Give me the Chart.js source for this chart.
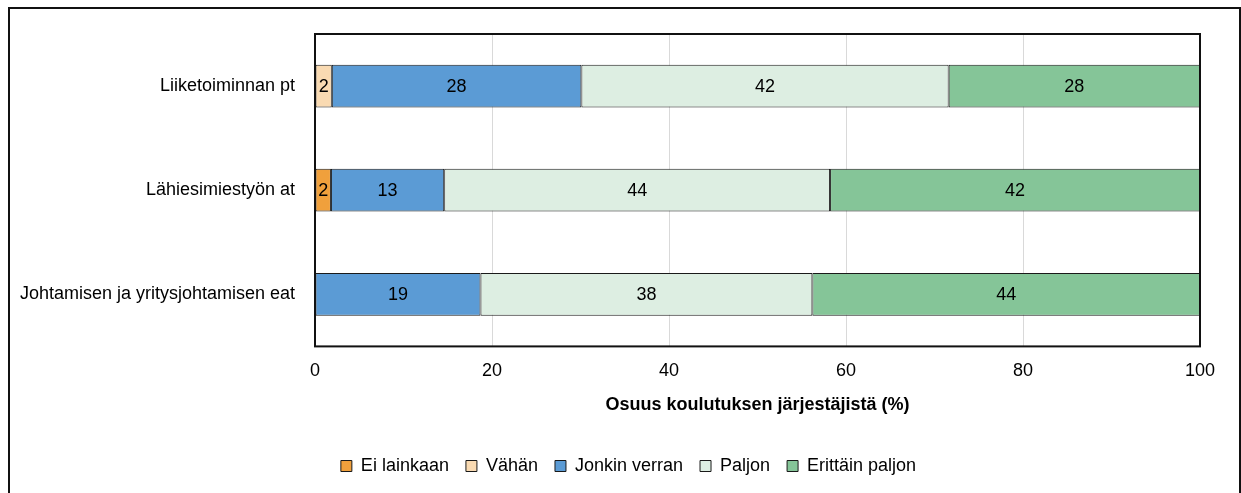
<!DOCTYPE html>
<html lang="fi">
<head>
<meta charset="utf-8">
<title>Osuus koulutuksen järjestäjistä</title>
<script src="https://cdn.jsdelivr.net/npm/chart.js@4/dist/chart.umd.min.js"></script>
<style>
    html, body {
        margin: 0;
        padding: 0;
        background: #ffffff;
    }

    .chart-wrap {
        position: relative;
        width: 1241px;
        height: 493px;
        overflow: hidden;
    }

    .frame {
        position: absolute;
        left: 8px;
        top: 7px;
        width: 1233px;
        height: 540px;
        box-sizing: border-box;
        border: 2px solid #111111;
        pointer-events: none;
    }
</style>
</head>
<body>
<div class="chart-wrap">
    <canvas id="chart"></canvas>
    <div class="frame"></div>
</div>
<script>
const categories = ['Liiketoiminnan pt', 'Lähiesimiestyön at', 'Johtamisen ja yritysjohtamisen eat'];
const seriesNames = ['Ei lainkaan', 'Vähän', 'Jonkin verran', 'Paljon', 'Erittäin paljon'];
const eiLainkaan = [null, 1.8, null];
const vahan = [1.9, null, null];
const jonkinVerran = [28.2, 12.8, 18.7];
const paljon = [41.5, 43.6, 37.5];
const erittainPaljon = [28.4, 41.8, 43.8];
const xTicks = [0, 20, 40, 60, 80, 100];
const axisTitle = 'Osuus koulutuksen järjestäjistä (%)';

const seriesColors = ['#f0a03c', '#f9dab2', '#5b9bd5', '#ddeee2', '#85c598'];
const fontFamily = '"Liberation Sans", Arial, sans-serif';

// numbers inside the segments
const segmentLabels = {
    id: 'segmentLabels',
    afterDatasetsDraw(chart) {
        const ctx = chart.ctx;
        ctx.save();
        ctx.font = `18px ${fontFamily}`;
        ctx.fillStyle = '#000000';
        ctx.textAlign = 'center';
        ctx.textBaseline = 'middle';
        chart.data.datasets.forEach((dataset, i) => {
            const meta = chart.getDatasetMeta(i);
            meta.data.forEach((bar, j) => {
                const value = dataset.data[j];
                if (value === null || value === undefined) {
                    return;
                }
                const x = (bar.x + bar.base) / 2;
                ctx.fillText(`${Math.round(value)}`, x, bar.y + 1);
            });
        });
        ctx.restore();
    },
};

// black frame round the plot area
const plotFrame = {
    id: 'plotFrame',
    afterDraw(chart) {
        const {ctx, chartArea} = chart;
        ctx.save();
        ctx.strokeStyle = '#111111';
        ctx.lineWidth = 2;
        ctx.strokeRect(chartArea.left, chartArea.top, chartArea.right - chartArea.left, chartArea.bottom - chartArea.top);
        ctx.restore();
    },
};

const seriesData = [eiLainkaan, vahan, jonkinVerran, paljon, erittainPaljon];

const datasets = seriesNames.map((name, i) => ({
    label: name,
    data: seriesData[i],
    backgroundColor: seriesColors[i],
    borderColor: '#1a1a1a',
    borderWidth: 1,
    borderSkipped: false,
    categoryPercentage: 1,
    barPercentage: 0.41,
}));

const canvas = document.getElementById('chart');

new Chart(canvas.getContext('2d'), {
    type: 'bar',
    data: {
        labels: categories,
        datasets,
    },
    plugins: [segmentLabels, plotFrame],
    options: {
        indexAxis: 'y',
        responsive: true,
        maintainAspectRatio: false,
        animation: false,
        layout: {
            padding: {
                left: 16,
                right: 0,
                top: 34,
                bottom: 8,
            },
        },
        plugins: {
            legend: {
                position: 'bottom',
                labels: {
                    boxWidth: 11,
                    boxHeight: 11,
                    padding: 17,
                    color: '#000000',
                    font: {
                        family: fontFamily,
                        size: 18,
                    },
                },
            },
            tooltip: {
                enabled: false,
            },
        },
        scales: {
            x: {
                stacked: true,
                min: 0,
                max: 100,
                afterBuildTicks(scale) {
                    scale.ticks = xTicks.map((value) => ({value}));
                },
                grid: {
                    color: '#d9d9d9',
                    lineWidth: 1,
                    drawTicks: false,
                },
                border: {
                    display: false,
                },
                ticks: {
                    padding: 14,
                    color: '#000000',
                    font: {
                        family: fontFamily,
                        size: 18,
                    },
                },
                title: {
                    display: true,
                    text: axisTitle,
                    color: '#000000',
                    padding: {
                        top: 0,
                        bottom: 26,
                    },
                    font: {
                        family: fontFamily,
                        size: 18,
                        weight: 'bold',
                        lineHeight: 1,
                    },
                },
            },
            y: {
                stacked: true,
                afterFit(scale) {
                    scale.width = 299;
                },
                grid: {
                    display: false,
                    drawTicks: false,
                },
                border: {
                    display: false,
                },
                ticks: {
                    padding: 20,
                    color: '#000000',
                    font: {
                        family: fontFamily,
                        size: 18,
                    },
                },
            },
            // empty strip on the right so the plot ends at 100 like the original
            yRight: {
                type: 'category',
                axis: 'y',
                position: 'right',
                afterFit(scale) {
                    scale.width = 41;
                },
                grid: {
                    display: false,
                },
                border: {
                    display: false,
                },
                ticks: {
                    display: false,
                },
            },
        },
    },
});
</script>
</body>
</html>
